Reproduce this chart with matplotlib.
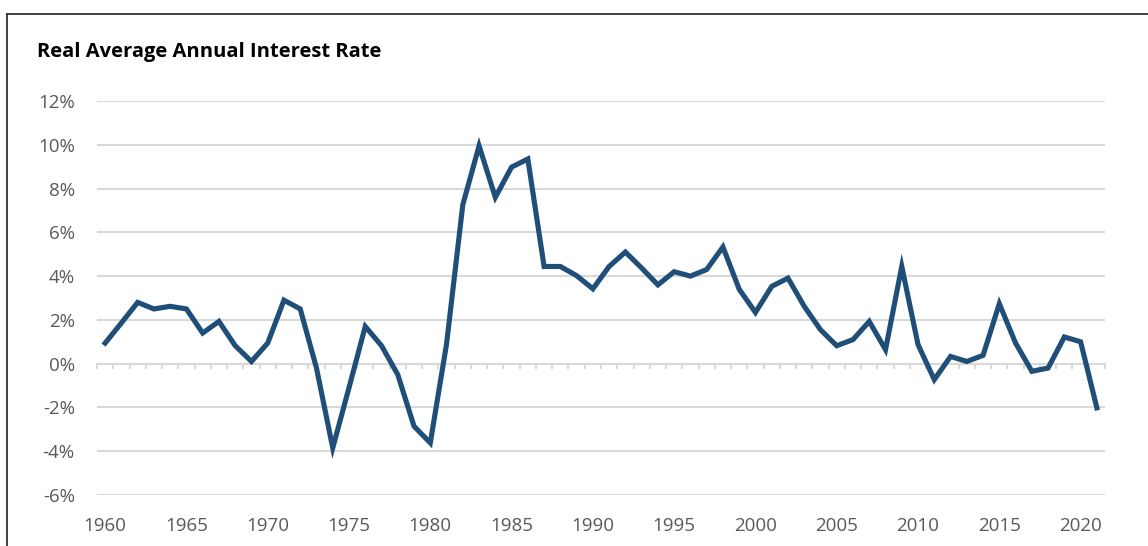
import matplotlib
matplotlib.use("Agg")
import matplotlib.pyplot as plt
from matplotlib.lines import Line2D
from matplotlib.ticker import FuncFormatter

years = list(range(1960, 2022))
rates = [0.94, 1.86, 2.8, 2.5, 2.62, 2.5, 1.4, 1.93, 0.82, 0.1,
         0.94, 2.9, 2.5, -0.2, -3.85, -1.1, 1.7, 0.82, -0.5, -2.86,
         -3.62, 0.9, 7.26, 9.95, 7.6, 8.98, 9.35, 4.44, 4.44, 4.02,
         3.42, 4.44, 5.1, 4.37, 3.6, 4.2, 4.0, 4.3, 5.33, 3.4,
         2.34, 3.53, 3.91, 2.62, 1.55, 0.82, 1.1, 1.93, 0.64, 4.44,
         0.87, -0.73, 0.33, 0.1, 0.38, 2.74, 0.94, -0.35, -0.2, 1.22,
         1.0, -2.02]
year_labels = list(range(1960, 2021, 5))
y_ticks = list(range(-6, 13, 2))

plt.rcParams['font.family'] = ['Open Sans', 'DejaVu Sans']

W, H = 1148, 546
fig = plt.figure(figsize=(W / 100, H / 100), dpi=100)
ax = fig.add_axes([97 / W, 1 - 495 / H, (1105 - 97) / W, (495 - 101) / H])

grid_c = "#D9D9D9"
label_c = "#595959"

for v in y_ticks:
    ax.axhline(v, color=grid_c, lw=1.5, zorder=1)

ax.plot(years, rates, color="#1F4E79", lw=3.7, solid_joinstyle="miter", zorder=3)

ax.set_xlim(1959.5, 2021.5)
ax.set_ylim(-6, 12)
ax.set_yticks(y_ticks)
ax.yaxis.set_major_formatter(FuncFormatter(lambda v, p: f"{v:.0f}%"))
ax.tick_params(axis="y", length=0, pad=16, labelsize=13.5, labelcolor=label_c)

# category ticks sit between years, on the zero line
for b in [y - 0.5 for y in range(1960, 2023)]:
    ax.plot([b, b], [0, -0.22], color=grid_c, lw=1.5, zorder=2, clip_on=False)

ax.set_xticks(year_labels)
ax.tick_params(axis="x", length=0, pad=16, labelsize=13.5, labelcolor=label_c)

for s in ax.spines.values():
    s.set_visible(False)

fig.text(37 / W, 1 - 57 / H, "Real Average Annual Interest Rate",
         fontsize=14.5, fontweight="bold", color="#000000", ha="left", va="baseline")

# outer chart frame (top and left edges visible)
fig.add_artist(Line2D([7 / W, 1.0], [1 - 14 / H, 1 - 14 / H], color="#333333", lw=1.3,
                      transform=fig.transFigure))
fig.add_artist(Line2D([7 / W, 7 / W], [0, 1 - 14 / H], color="#333333", lw=1.3,
                      transform=fig.transFigure))

fig.savefig("out.png", dpi=100, facecolor="white")
